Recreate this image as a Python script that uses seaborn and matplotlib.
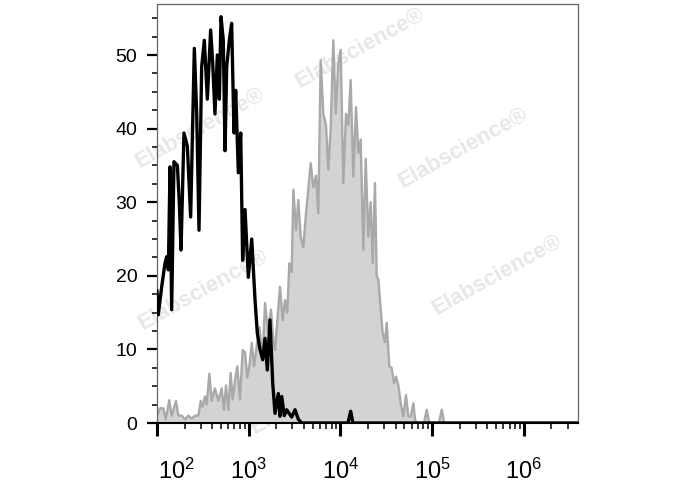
import numpy as np
import pandas as pd
import matplotlib
matplotlib.use("Agg")
import matplotlib.pyplot as plt
import seaborn as sns
from matplotlib.ticker import FixedLocator, LogLocator, MultipleLocator, NullFormatter
from matplotlib.transforms import ScaledTranslation

# --- data (x in log10 units, y = count) ---
black_log = [2.000, 2.014, 2.051, 2.087, 2.106, 2.124, 2.142, 2.160, 2.185, 2.222,
             2.243, 2.262, 2.294, 2.331, 2.367, 2.407, 2.433, 2.458, 2.487, 2.516,
             2.549, 2.585, 2.607, 2.632, 2.658, 2.680, 2.698, 2.723, 2.742, 2.760,
             2.789, 2.814, 2.840, 2.858, 2.887, 2.913, 2.934, 2.960, 2.996, 3.033,
             3.069, 3.094, 3.123, 3.153, 3.178, 3.203, 3.232, 3.262, 3.287, 3.323,
             3.341, 3.360, 3.388, 3.414, 3.469, 3.505, 3.541, 3.578, 4.083, 4.112,
             4.137, 6.600]
black_count = [18.0, 14.7, 18.5, 21.7, 22.6, 20.8, 34.8, 15.4, 35.5, 35.0,
               30.0, 23.5, 39.4, 37.6, 28.0, 50.9, 42.0, 26.2, 48.4, 52.0,
               44.0, 53.4, 49.0, 42.0, 50.0, 44.0, 55.2, 52.0, 37.0, 48.4,
               52.0, 54.3, 39.4, 45.2, 34.0, 39.4, 22.1, 29.0, 19.8, 25.0,
               16.7, 12.2, 10.0, 8.6, 11.5, 7.2, 14.0, 5.4, 1.3, 4.0,
               0.9, 3.6, 1.0, 1.8, 0.8, 1.8, 0.5, 0.0, 0.0, 1.6,
               0.0, 0.0]

gray_log = [2.003, 2.033, 2.069, 2.095, 2.134, 2.160, 2.207, 2.233, 2.269, 2.305,
            2.342, 2.378, 2.414, 2.451, 2.477, 2.498, 2.523, 2.542, 2.571, 2.596,
            2.632, 2.669, 2.705, 2.731, 2.752, 2.778, 2.803, 2.825, 2.851, 2.876,
            2.905, 2.934, 2.960, 2.985, 3.007, 3.033, 3.058, 3.087, 3.118, 3.151,
            3.178, 3.210, 3.243, 3.270, 3.287, 3.341, 3.371, 3.396, 3.421, 3.443,
            3.469, 3.487, 3.516, 3.541, 3.567, 3.596, 3.625, 3.650, 3.676, 3.705,
            3.734, 3.759, 3.785, 3.814, 3.843, 3.868, 3.894, 3.923, 3.949, 3.977,
            4.003, 4.032, 4.061, 4.086, 4.112, 4.141, 4.170, 4.195, 4.221, 4.250,
            4.276, 4.304, 4.330, 4.352, 4.377, 4.396, 4.414, 4.440, 4.461, 4.486,
            4.505, 4.533, 4.559, 4.585, 4.606, 4.631, 4.658, 4.686, 4.715, 4.741,
            4.767, 4.796, 4.815, 4.850, 4.912, 4.941, 4.969, 5.075, 5.105, 5.133,
            6.600]
gray_count = [1.0, 2.0, 2.0, 0.5, 3.1, 1.0, 3.0, 1.0, 1.0, 0.5,
              1.0, 0.6, 1.0, 1.0, 3.0, 2.2, 3.6, 2.5, 6.7, 3.0,
              4.7, 3.0, 4.7, 1.8, 5.1, 1.8, 6.8, 3.2, 5.8, 7.7,
              3.2, 9.9, 9.6, 6.2, 7.7, 10.9, 7.7, 10.4, 13.0, 8.5,
              16.3, 12.5, 15.4, 11.0, 9.9, 18.5, 14.0, 16.7, 15.0, 21.7,
              20.5, 31.7, 26.2, 30.3, 25.3, 23.9, 28.5, 31.7, 35.3, 32.0,
              33.6, 28.5, 49.3, 42.0, 40.5, 34.4, 40.0, 52.0, 42.0, 48.9,
              50.7, 32.6, 42.0, 40.5, 46.6, 33.5, 42.9, 36.7, 38.5, 23.5,
              35.9, 25.3, 30.0, 21.7, 32.6, 19.9, 19.5, 15.4, 12.2, 11.0,
              13.6, 7.7, 7.5, 5.4, 6.3, 5.2, 2.7, 0.9, 3.8, 0.9,
              0.9, 2.7, 0.3, 0.0, 0.0, 1.8, 0.0, 0.0, 1.8, 0.0,
              0.0]

x_decades = [2, 3, 4, 5, 6]
y_ticks = [0, 10, 20, 30, 40, 50]

# watermark centres in axes fraction
wm_pos = [(0.483, 0.895), (0.102, 0.703), (0.727, 0.656),
          (0.808, 0.353), (0.109, 0.317), (0.375, 0.068)]

sns.set_style("ticks")
plt.rcParams["font.family"] = ["Liberation Sans", "DejaVu Sans"]
plt.rcParams["mathtext.default"] = "regular"

black_df = pd.DataFrame({"x": 10 ** np.array(black_log), "count": black_count})
gray_df = pd.DataFrame({"x": 10 ** np.array(gray_log), "count": gray_count})

fig = plt.figure(figsize=(6.88, 4.9), dpi=100)
ax = fig.add_axes([157 / 688, 1 - 423 / 490, 421 / 688, 419 / 490])

# watermark text
for wx, wy in wm_pos:
    ax.text(wx, wy, "Elabscience\u00ae", transform=ax.transAxes, rotation=29,
            fontsize=16, fontweight="bold", color="#e7e7e7",
            ha="center", va="center", zorder=0)

ax.fill_between(gray_df["x"], gray_df["count"], 0, color="#d3d3d3", lw=0, zorder=1)
sns.lineplot(data=gray_df, x="x", y="count", color="#a9a9a9", lw=1.7,
             sort=False, estimator=None, ax=ax, zorder=2)
sns.lineplot(data=black_df, x="x", y="count", color="black", lw=2.4,
             sort=False, estimator=None, ax=ax, zorder=3)

ax.set_xscale("log")
ax.set_xlim(1e2, 10 ** (2 + 421 / 91.7))
ax.set_ylim(0, 419 / 7.36)

ax.xaxis.set_major_locator(FixedLocator([10 ** d for d in x_decades]))
ax.set_xticklabels([f"10$^{{{d}}}$" for d in x_decades])
ax.xaxis.set_minor_locator(LogLocator(base=10, subs=np.arange(2, 10)))
ax.xaxis.set_minor_formatter(NullFormatter())
ax.set_yticks(y_ticks)
ax.yaxis.set_minor_locator(MultipleLocator(2.5))

ax.tick_params(axis="x", which="major", length=9.5, width=2.2, pad=16,
               labelsize=17, color="black", labelcolor="black")
ax.tick_params(axis="x", which="minor", length=4.5, width=1.1, color="black")
ax.tick_params(axis="y", which="major", length=7.2, width=1.6, pad=7,
               labelsize=14, color="black", labelcolor="black")
ax.tick_params(axis="y", which="minor", length=3.6, width=1.1, color="black")

# first x label sits to the right of its tick
lbl = ax.get_xticklabels()[0]
lbl.set_transform(lbl.get_transform() + ScaledTranslation(14 / 72, 0, fig.dpi_scale_trans))

for side in ["top", "right", "left"]:
    ax.spines[side].set_color("#666666")
    ax.spines[side].set_linewidth(0.9)
ax.spines["bottom"].set_color("black")
ax.spines["bottom"].set_linewidth(1.5)

ax.set_xlabel("")
ax.set_ylabel("")

fig.savefig("out.png", dpi=100)
